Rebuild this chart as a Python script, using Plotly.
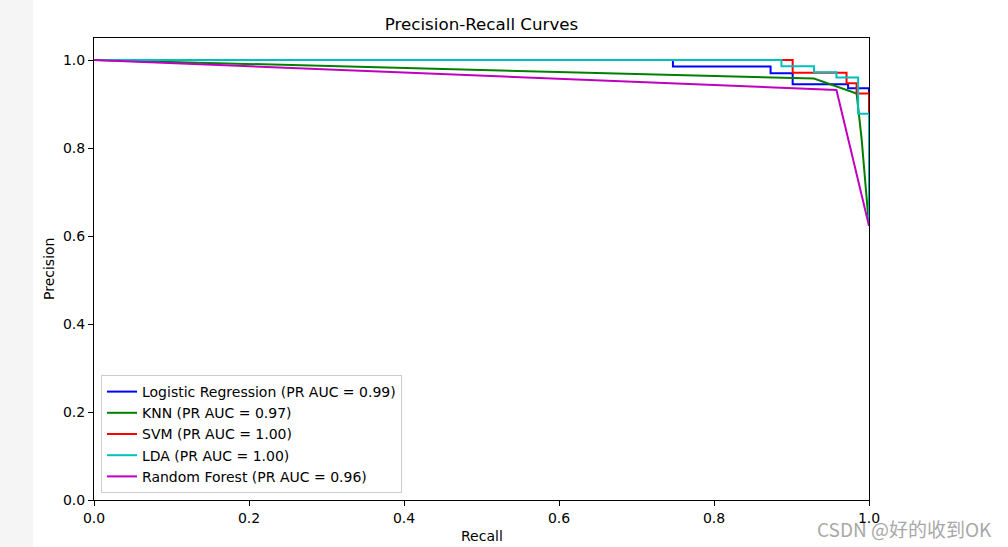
import plotly.graph_objects as go

# Data (recall, precision)
lr_recall = [0.0, 0.747, 0.747, 0.873, 0.873, 0.9015, 0.9015, 0.973, 0.973, 1.0, 1.0]
lr_precision = [1.0, 1.0, 0.985, 0.985, 0.970, 0.970, 0.945, 0.945, 0.936, 0.936, 0.623]

knn_recall = [0.0, 0.929, 0.984, 0.9905, 1.0]
knn_precision = [1.0, 0.958, 0.924, 0.820, 0.623]

svm_recall = [0.0, 0.9015, 0.9015, 0.971, 0.971, 0.984, 0.984, 1.0, 1.0]
svm_precision = [1.0, 1.0, 0.971, 0.971, 0.947, 0.947, 0.924, 0.924, 0.623]

lda_recall = [0.0, 0.887, 0.887, 0.929, 0.929, 0.958, 0.958, 0.986, 0.986, 1.0, 1.0]
lda_precision = [1.0, 1.0, 0.986, 0.986, 0.972, 0.972, 0.960, 0.960, 0.878, 0.878, 0.623]

rf_recall = [0.0, 0.958, 1.0]
rf_precision = [1.0, 0.932, 0.623]

names = [
    "Logistic Regression (PR AUC = 0.99)",
    "KNN (PR AUC = 0.97)",
    "SVM (PR AUC = 1.00)",
    "LDA (PR AUC = 1.00)",
    "Random Forest (PR AUC = 0.96)",
]
colors = ["#0000ff", "#008000", "#ff0000", "#00bfbf", "#bf00bf"]
series = [
    (lr_recall, lr_precision),
    (knn_recall, knn_precision),
    (svm_recall, svm_precision),
    (lda_recall, lda_precision),
    (rf_recall, rf_precision),
]

ticks = [0.0, 0.2, 0.4, 0.6, 0.8, 1.0]
tick_text = ["0.0", "0.2", "0.4", "0.6", "0.8", "1.0"]

fig = go.Figure()
for (r, p), n, c in zip(series, names, colors):
    fig.add_trace(go.Scatter(x=r, y=p, mode="lines", name=n,
                             line=dict(color=c, width=2)))

font_family = "DejaVu Sans"
W, H = 1008, 547
ML, MR, MT, MB = 94, 139, 38, 47
PW, PH = W - ML - MR, H - MT - MB

fig.update_layout(
    width=W, height=H,
    margin=dict(l=ML, r=MR, t=MT, b=MB, autoexpand=False),
    paper_bgcolor="white", plot_bgcolor="white",
    font=dict(family=font_family, size=14, color="black"),
    title=dict(text="Precision-Recall Curves", x=(ML + PW / 2) / W, xanchor="center",
               y=1 - 24 / H, yanchor="middle", font=dict(size=16.7, family=font_family)),
    showlegend=True,
    legend=dict(x=7 / PW, y=7 / PH, xanchor="left", yanchor="bottom",
                bgcolor="rgba(255,255,255,0.8)", bordercolor="#cccccc", borderwidth=1,
                font=dict(size=14, family=font_family), tracegroupgap=0,
                itemwidth=30),
    xaxis=dict(range=[0, 1], tickvals=ticks, ticktext=tick_text, showgrid=False,
               zeroline=False, showline=True, linecolor="black", linewidth=1, mirror=True,
               ticks="outside", ticklen=5, tickcolor="black", automargin=False),
    yaxis=dict(range=[0, 1.05], tickvals=ticks, ticktext=tick_text, showgrid=False,
               zeroline=False, showline=True, linecolor="black", linewidth=1, mirror=True,
               ticks="outside", ticklen=5, tickcolor="black", automargin=False),
    shapes=[dict(type="rect", xref="paper", yref="paper",
                 x0=-ML / PW, x1=(33 - ML) / PW, y0=-MB / PH, y1=1 + MT / PH,
                 fillcolor="#f5f5f5", line=dict(width=0), layer="below")],
    annotations=[
        dict(text="Recall", xref="paper", yref="paper", x=0.5, y=-(536 - 500) / PH,
             xanchor="center", yanchor="middle", showarrow=False,
             font=dict(family=font_family, size=14, color="black")),
        dict(text="Precision", xref="paper", yref="paper", x=(49 - ML) / PW, y=0.5,
             xanchor="center", yanchor="middle", showarrow=False, textangle=-90,
             font=dict(family=font_family, size=14, color="black")),
        dict(text="CSDN @好的收到OK", xref="paper", yref="paper",
             x=(994 - ML) / PW, y=-(528 - 500) / PH, xanchor="right", yanchor="middle",
             showarrow=False,
             font=dict(family="Noto Sans CJK SC", size=19, color="#a8a8a8")),
    ],
)

fig.write_html(
    "out.html",
    config={"displayModeBar": False},
    post_script=("document.documentElement.style.margin='0';"
                 "document.body.style.margin='0';"
                 "document.documentElement.style.overflow='hidden';"
                 "document.body.style.overflow='hidden';"),
)
